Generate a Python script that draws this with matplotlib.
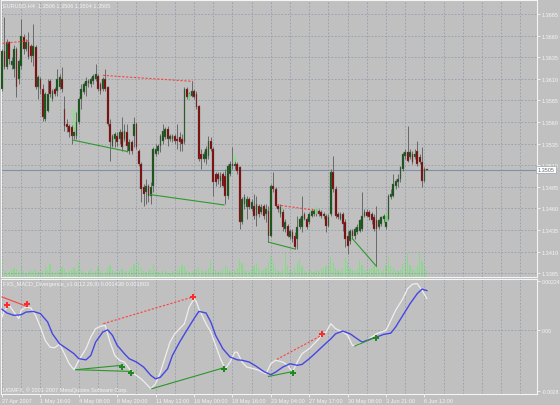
import numpy as np
import matplotlib.pyplot as plt

plt.rcParams['font.family'] = ['Liberation Sans', 'DejaVu Sans']

# EURUSD H4 candles (bar 0 = 27 Apr 2007)
opens = [
    1.3598, 1.3642, 1.3624, 1.3653, 1.3626, 1.3621, 1.3645, 1.3610, 1.3625, 1.3658,
    1.3645, 1.3653, 1.3648, 1.3636, 1.3647, 1.3601, 1.3610, 1.3598, 1.3563, 1.3573,
    1.3607, 1.3587, 1.3598, 1.3596, 1.3601, 1.3610, 1.3575, 1.3558, 1.3555, 1.3554,
    1.3544, 1.3544, 1.3560, 1.3587, 1.3595, 1.3602, 1.3607, 1.3604, 1.3607, 1.3610,
    1.3613, 1.3604, 1.3598, 1.3610, 1.3601, 1.3558, 1.3532, 1.3540, 1.3544, 1.3540,
    1.3548, 1.3540, 1.3548, 1.3526, 1.3537, 1.3544, 1.3558, 1.3526, 1.3511, 1.3485,
    1.3479, 1.3486, 1.3474, 1.3486, 1.3523, 1.3526, 1.3532, 1.3538, 1.3543, 1.3552,
    1.3540, 1.3540, 1.3544, 1.3540, 1.3543, 1.3540, 1.3537, 1.3598, 1.3589, 1.3590,
    1.3596, 1.3592, 1.3579, 1.3523, 1.3517, 1.3517, 1.3521, 1.3538, 1.3529, 1.3500,
    1.3500, 1.3492, 1.3500, 1.3498, 1.3474, 1.3500, 1.3511, 1.3509, 1.3511, 1.3508,
    1.3444, 1.3465, 1.3462, 1.3471, 1.3459, 1.3463, 1.3451, 1.3463, 1.3456, 1.3463,
    1.3454, 1.3457, 1.3428, 1.3486, 1.3482, 1.3463, 1.3454, 1.3456, 1.3436, 1.3440,
    1.3427, 1.3433, 1.3428, 1.3425, 1.3439, 1.3439, 1.3454, 1.3448, 1.3444, 1.3451,
    1.3454, 1.3454, 1.3457, 1.3456, 1.3454, 1.3451, 1.3440, 1.3454, 1.3502, 1.3482,
    1.3454, 1.3448, 1.3454, 1.3444, 1.3428, 1.3422, 1.3434, 1.3428, 1.3433, 1.3434,
    1.3436, 1.3451, 1.3456, 1.3456, 1.3454, 1.3450, 1.3446, 1.3439, 1.3442, 1.3448,
    1.3439, 1.3448, 1.3473, 1.3474, 1.3486, 1.3491, 1.3494, 1.3506, 1.3521, 1.3525,
    1.3520, 1.3523, 1.3520, 1.3526, 1.3520, 1.3514, 1.3492, 1.3506]
highs = [
    1.3645, 1.3682, 1.3656, 1.3654, 1.3635, 1.3649, 1.3647, 1.3633, 1.3679, 1.3662,
    1.3656, 1.3664, 1.3650, 1.3673, 1.3649, 1.3614, 1.3612, 1.3604, 1.3595, 1.3610,
    1.3610, 1.3598, 1.3601, 1.3621, 1.3616, 1.3624, 1.3590, 1.3563, 1.3558, 1.3557,
    1.3554, 1.3572, 1.3589, 1.3604, 1.3606, 1.3612, 1.3610, 1.3612, 1.3616, 1.3627,
    1.3616, 1.3606, 1.3612, 1.3621, 1.3602, 1.3563, 1.3546, 1.3548, 1.3548, 1.3552,
    1.3566, 1.3558, 1.3558, 1.3540, 1.3539, 1.3566, 1.3560, 1.3529, 1.3514, 1.3488,
    1.3494, 1.3488, 1.3491, 1.3531, 1.3535, 1.3535, 1.3546, 1.3558, 1.3554, 1.3555,
    1.3546, 1.3546, 1.3546, 1.3558, 1.3548, 1.3546, 1.3601, 1.3601, 1.3595, 1.3607,
    1.3598, 1.3596, 1.3580, 1.3529, 1.3526, 1.3532, 1.3544, 1.3543, 1.3531, 1.3502,
    1.3502, 1.3502, 1.3502, 1.3506, 1.3511, 1.3515, 1.3531, 1.3517, 1.3514, 1.3509,
    1.3473, 1.3477, 1.3474, 1.3473, 1.3471, 1.3477, 1.3474, 1.3465, 1.3465, 1.3465,
    1.3465, 1.3463, 1.3488, 1.3502, 1.3485, 1.3465, 1.3465, 1.3459, 1.3448, 1.3442,
    1.3436, 1.3436, 1.3433, 1.3451, 1.3450, 1.3474, 1.3456, 1.3450, 1.3456, 1.3459,
    1.3459, 1.3462, 1.3459, 1.3458, 1.3456, 1.3454, 1.3454, 1.3506, 1.3521, 1.3486,
    1.3456, 1.3456, 1.3456, 1.3448, 1.3434, 1.3436, 1.3436, 1.3439, 1.3442, 1.3448,
    1.3479, 1.3459, 1.3459, 1.3458, 1.3456, 1.3454, 1.3463, 1.3448, 1.3451, 1.3454,
    1.3454, 1.3477, 1.3482, 1.3500, 1.3494, 1.3500, 1.3509, 1.3525, 1.3529, 1.3555,
    1.3529, 1.3526, 1.3529, 1.3538, 1.3523, 1.3531, 1.3508, 1.3506]
lows = [
    1.3596, 1.3621, 1.3621, 1.3627, 1.3621, 1.3612, 1.3589, 1.3604, 1.3621, 1.3639,
    1.3642, 1.3633, 1.3629, 1.3625, 1.3598, 1.3587, 1.3592, 1.3561, 1.3561, 1.3572,
    1.3589, 1.3584, 1.3590, 1.3590, 1.3598, 1.3595, 1.3550, 1.3548, 1.3543, 1.3535,
    1.3540, 1.3540, 1.3558, 1.3575, 1.3592, 1.3590, 1.3601, 1.3601, 1.3604, 1.3607,
    1.3596, 1.3592, 1.3596, 1.3596, 1.3555, 1.3515, 1.3531, 1.3531, 1.3532, 1.3535,
    1.3526, 1.3538, 1.3525, 1.3523, 1.3523, 1.3531, 1.3529, 1.3509, 1.3467, 1.3463,
    1.3465, 1.3467, 1.3465, 1.3479, 1.3521, 1.3523, 1.3525, 1.3535, 1.3540, 1.3532,
    1.3538, 1.3537, 1.3535, 1.3529, 1.3526, 1.3526, 1.3535, 1.3587, 1.3587, 1.3589,
    1.3587, 1.3575, 1.3515, 1.3506, 1.3514, 1.3511, 1.3517, 1.3526, 1.3474, 1.3486,
    1.3488, 1.3485, 1.3485, 1.3465, 1.3471, 1.3498, 1.3506, 1.3506, 1.3500, 1.3436,
    1.3442, 1.3459, 1.3448, 1.3459, 1.3457, 1.3448, 1.3440, 1.3450, 1.3454, 1.3448,
    1.3444, 1.3421, 1.3427, 1.3479, 1.3462, 1.3456, 1.3450, 1.3434, 1.3433, 1.3427,
    1.3425, 1.3421, 1.3413, 1.3413, 1.3436, 1.3433, 1.3446, 1.3436, 1.3442, 1.3450,
    1.3451, 1.3451, 1.3451, 1.3449, 1.3448, 1.3433, 1.3439, 1.3451, 1.3479, 1.3449,
    1.3448, 1.3446, 1.3434, 1.3415, 1.3407, 1.3419, 1.3425, 1.3425, 1.3430, 1.3433,
    1.3434, 1.3450, 1.3450, 1.3446, 1.3442, 1.3434, 1.3393, 1.3436, 1.3440, 1.3444,
    1.3436, 1.3446, 1.3471, 1.3473, 1.3482, 1.3485, 1.3491, 1.3503, 1.3517, 1.3514,
    1.3517, 1.3511, 1.3517, 1.3509, 1.3511, 1.3485, 1.3491, 1.3504]
closes = [
    1.3642, 1.3624, 1.3653, 1.3633, 1.3631, 1.3645, 1.3601, 1.3631, 1.3660, 1.3645,
    1.3653, 1.3635, 1.3636, 1.3648, 1.3601, 1.3612, 1.3598, 1.3566, 1.3592, 1.3592,
    1.3592, 1.3596, 1.3592, 1.3610, 1.3612, 1.3598, 1.3555, 1.3554, 1.3548, 1.3544,
    1.3550, 1.3560, 1.3587, 1.3598, 1.3604, 1.3607, 1.3605, 1.3610, 1.3613, 1.3616,
    1.3598, 1.3596, 1.3610, 1.3598, 1.3558, 1.3537, 1.3544, 1.3546, 1.3537, 1.3548,
    1.3531, 1.3550, 1.3532, 1.3537, 1.3526, 1.3558, 1.3531, 1.3511, 1.3482, 1.3477,
    1.3486, 1.3474, 1.3485, 1.3529, 1.3529, 1.3532, 1.3544, 1.3550, 1.3552, 1.3540,
    1.3544, 1.3544, 1.3538, 1.3538, 1.3537, 1.3535, 1.3598, 1.3589, 1.3592, 1.3596,
    1.3589, 1.3577, 1.3517, 1.3517, 1.3523, 1.3529, 1.3538, 1.3529, 1.3491, 1.3491,
    1.3494, 1.3498, 1.3486, 1.3474, 1.3509, 1.3511, 1.3509, 1.3511, 1.3503, 1.3444,
    1.3471, 1.3473, 1.3471, 1.3462, 1.3467, 1.3451, 1.3465, 1.3454, 1.3462, 1.3451,
    1.3459, 1.3428, 1.3486, 1.3482, 1.3463, 1.3459, 1.3462, 1.3439, 1.3444, 1.3428,
    1.3434, 1.3425, 1.3415, 1.3439, 1.3448, 1.3451, 1.3448, 1.3439, 1.3454, 1.3457,
    1.3457, 1.3459, 1.3454, 1.3451, 1.3451, 1.3440, 1.3450, 1.3502, 1.3482, 1.3451,
    1.3450, 1.3454, 1.3442, 1.3425, 1.3417, 1.3434, 1.3428, 1.3436, 1.3439, 1.3446,
    1.3451, 1.3456, 1.3451, 1.3450, 1.3446, 1.3436, 1.3436, 1.3446, 1.3450, 1.3451,
    1.3451, 1.3474, 1.3477, 1.3488, 1.3492, 1.3494, 1.3508, 1.3523, 1.3525, 1.3515,
    1.3525, 1.3514, 1.3523, 1.3511, 1.3514, 1.3492, 1.3506, 1.3505]
volumes = [
    170, 60, 40, 50, 70, 90, 80, 50, 120, 60, 40, 50, 70, 60, 80, 50, 40, 60, 100, 70,
    130, 50, 40, 60, 70, 100, 80, 50, 60, 70, 90, 60, 150, 70, 50, 40, 60, 80, 50, 60,
    100, 60, 40, 50, 90, 120, 70, 50, 40, 60, 80, 50, 60, 70, 90, 130, 80, 150, 90, 60,
    50, 70, 80, 130, 60, 50, 40, 60, 70, 50, 40, 60, 50, 70, 90, 120, 110, 60, 50, 40,
    60, 80, 100, 70, 50, 60, 90, 170, 120, 70, 50, 60, 80, 110, 90, 60, 50, 70, 90, 180,
    140, 70, 60, 50, 80, 110, 140, 90, 60, 70, 90, 150, 220, 160, 90, 60, 50, 80, 250, 120,
    70, 60, 90, 140, 180, 110, 60, 50, 70, 60, 50, 70, 60, 80, 90, 110, 130, 200, 150, 90,
    70, 60, 90, 200, 150, 90, 70, 60, 80, 170, 120, 70, 60, 80, 90, 110, 160, 80, 60, 70,
    120, 200, 110, 90, 70, 60, 80, 130, 150, 240, 120, 80, 70, 110, 250, 160, 90, 60]

last_price = 1.3505
price_levels = [1.3385, 1.3410, 1.3435, 1.3460, 1.3485, 1.3510, 1.3535,
                1.3560, 1.3585, 1.3610, 1.3635, 1.3660, 1.3685]
date_labels = ['27 Apr 2007', '1 May 16:00', '4 May 08:00', '8 May 20:00',
               '11 May 12:00', '16 May 00:00', '18 May 16:00', '23 May 04:00',
               '27 May 17:00', '30 May 08:00', '3 Jun 21:00', '6 Jun 12:00']

# divergence lines on price: (bar0, price0, bar1, price1)
price_bear = [(0.3, 1.3651, 10.8, 1.3654), (42, 1.3614, 79.6, 1.3607),
              (114.6, 1.3464, 130, 1.3458)]
price_bull = [(29.6, 1.3539, 52, 1.3526), (61.7, 1.3476, 92.5, 1.3464),
              (111, 1.3421, 122, 1.3413), (146, 1.3425, 156, 1.3393)]
arrow_bars = [30, 78, 97, 131, 160]
arrow_top = [1.3575, 1.3592, 1.3521, 1.3462, 1.3454]
arrow_bot = [1.3548, 1.3587, 1.3514, 1.3454, 1.3444]

# MACD indicator
macd_bars = [0, 1, 3, 4, 5, 7, 8, 10, 12, 14, 16, 18, 20, 22, 24, 26, 28, 30, 32, 35,
             37, 39, 41, 43, 45, 47, 49, 51, 53, 55, 58, 60, 62, 64, 66, 68, 70, 72, 74, 76,
             78, 80, 81, 82, 85, 87, 89, 91, 93, 95, 97, 98, 100, 102, 105, 107, 110, 112, 114, 117,
             119, 121, 123, 125, 128, 130, 132, 133, 135, 137, 139, 142, 144, 146, 148, 150, 152, 154, 156, 158,
             160, 162, 164, 167, 169, 171, 173, 175, 177]
macd_vals = [0.00059, 0.00090, 0.00113, 0.00097, 0.00082, 0.00052, 0.00090, 0.00105, 0.00101, 0.00067,
             0.00014, -0.00047, -0.00078, -0.00081, -0.00063, -0.00108, -0.00154, -0.00181, -0.00138, -0.00085,
             -0.00032, 0.00006, 0.00017, 0.00021, -0.00055, -0.00116, -0.00138, -0.00146, -0.00177, -0.00200,
             -0.00223, -0.00245, -0.00268, -0.00245, -0.00192, -0.00123, -0.00055, -0.00017, 0.00006, 0.00029,
             0.00105, 0.00143, 0.00128, 0.00097, 0.00029, -0.00009, -0.00070, -0.00131, -0.00177, -0.00146,
             -0.00101, -0.00101, -0.00146, -0.00169, -0.00177, -0.00184, -0.00200, -0.00154, -0.00138, -0.00146,
             -0.00161, -0.00192, -0.00146, -0.00108, -0.00085, -0.00063, -0.00040, -0.00024, -0.00009, 0.00029,
             0.00006, -0.00009, -0.00024, -0.00070, -0.00070, -0.00055, -0.00047, -0.00032, -0.00017, -0.00009,
             -0.00001, 0.00044, 0.00090, 0.00143, 0.00189, 0.00209, 0.00212, 0.00181, 0.00144]
signal_bars = [0, 2, 5, 8, 10, 13, 16, 19, 21, 24, 27, 30, 32, 35, 37, 39, 42, 44, 46, 48,
               51, 53, 56, 59, 62, 64, 66, 69, 71, 74, 77, 80, 82, 85, 87, 89, 92, 95, 98, 100,
               103, 106, 109, 112, 114, 117, 120, 123, 125, 128, 131, 134, 137, 139, 142, 145, 148, 150, 153, 156,
               159, 162, 164, 167, 170, 173, 175, 177]
signal_vals = [0.00095, 0.00078, 0.00067, 0.00070, 0.00082, 0.00085, 0.00075, 0.00037, -0.00017, -0.00063,
               -0.00085, -0.00108, -0.00131, -0.00136, -0.00116, -0.00055, -0.00009, 0.00001, -0.00024, -0.00070,
               -0.00108, -0.00131, -0.00146, -0.00169, -0.00207, -0.00223, -0.00215, -0.00177, -0.00116, -0.00055,
               -0.00001, 0.00052, 0.00085, 0.00078, 0.00037, -0.00024, -0.00085, -0.00123, -0.00136, -0.00138,
               -0.00146, -0.00166, -0.00189, -0.00204, -0.00192, -0.00169, -0.00154, -0.00161, -0.00157, -0.00131,
               -0.00101, -0.00070, -0.00040, -0.00017, -0.00005, -0.00017, -0.00040, -0.00055, -0.00043, -0.00032,
               -0.00020, -0.00014, 0.00014, 0.00067, 0.00120, 0.00166, 0.00187, 0.00180]
osc_levels = [0.00224, 0.0, -0.0028]
osc_level_labels = ['0.00224', '0.00', '-0.0028']

osc_bear = [(0, 0.00151, 10.3, 0.00108), (42.2, 0.00029, 79.5, 0.00151),
            (114.5, -0.00134, 133.2, -0.00024)]
osc_bull = [(30.8, -0.00181, 49.9, -0.00161), (30.8, -0.00181, 53.75, -0.00189),
            (62.4, -0.00268, 92.5, -0.00172), (111, -0.00212, 121.4, -0.00189),
            (147, -0.00073, 155.8, -0.00032)]
sell_bars = [2.2, 10.5, 79.5, 133.2]
sell_vals = [0.00113, 0.00120, 0.00151, -0.00018]
buy_bars = [49.9, 53.75, 92.5, 121.4, 155.8]
buy_vals = [-0.00169, -0.00197, -0.00178, -0.00197, -0.00037]

# colours
BG = '#c0c0c0'
FG = '#f4f4f4'
GRID = '#949eab'
BULL = '#0d520d'
BEAR = '#820000'
WICK = '#6a6a6a'
VOL = '#86dc86'

fig = plt.figure(figsize=(5.6, 4.06), dpi=100, facecolor=BG)
ax = fig.add_axes([1 / 560, 128 / 406, 536 / 560, 277 / 406])
osc = fig.add_axes([1 / 560, 11 / 406, 536 / 560, 115 / 406], sharex=ax)

# volumes behind the candles
vax = ax.twinx()
vax.set_zorder(0)
ax.set_zorder(1)
ax.patch.set_visible(False)
vax.axis('off')
idx = np.arange(len(closes))
vax.bar(idx, volumes, width=0.45, color=VOL, linewidth=0)
vax.set_ylim(0, 2770)

o = np.array(opens)
c = np.array(closes)
up = c >= o
ax.vlines(idx, lows, highs, color=WICK, linewidth=0.7, zorder=3)
body_lo = np.minimum(o, c)
body_h = np.maximum(np.abs(c - o), 0.00004)
ax.bar(idx, body_h, bottom=body_lo, width=0.75,
       color=np.where(up, BULL, BEAR), edgecolor=WICK, linewidth=0.25, zorder=4)

for b0, p0, b1, p1 in price_bear:
    ax.plot([b0, b1], [p0, p1], color='#ff4040', linewidth=0.8,
            linestyle=(0, (2, 1.5)), zorder=5)
for b0, p0, b1, p1 in price_bull:
    ax.plot([b0, b1], [p0, p1], color='#2e9a2e', linewidth=0.8, zorder=5)
ax.vlines(arrow_bars, arrow_bot, arrow_top, color='#7ee87e', linewidth=1.2, zorder=6)

ax.axhline(last_price, color='#7e8fa6', linewidth=0.8, zorder=2)

ax.set_xlim(-0.42, 222.9)
ax.set_ylim(1.33806, 1.37012)

grid_kw = dict(color=GRID, linestyle=(0, (2, 2)), linewidth=0.6)
for a in (ax, osc):
    a.set_facecolor(BG)
    a.set_xticks(np.arange(0, 223, 8), minor=True)
    a.grid(True, which='both', axis='x', **grid_kw)
    a.grid(True, which='major', axis='y', **grid_kw)
    a.set_axisbelow(True)
    for s in a.spines.values():
        s.set_color(FG)
        s.set_linewidth(0.8)
    a.yaxis.tick_right()
    a.tick_params(axis='y', colors=FG, labelsize=4, length=2, width=0.6, pad=1.2)
    a.tick_params(which='minor', length=0)

ax.set_yticks(price_levels)
ax.set_yticklabels([f'{v:.4f}' for v in price_levels])
ax.tick_params(axis='x', which='both', labelbottom=False, length=0)

ax.text(1.0015, last_price, f'{last_price:.4f}', transform=ax.get_yaxis_transform(),
        fontsize=4, color='#6a6a6a', va='center', ha='left', zorder=10, clip_on=False,
        bbox=dict(boxstyle='square,pad=0.25', fc='white', ec='#9aa4b2', lw=0.5))

# oscillator panel
osc.plot(macd_bars, macd_vals, color='#eeeeee', linewidth=0.9, zorder=3)
osc.plot(signal_bars, signal_vals, color='#4646e6', linewidth=1.0, zorder=4)
for b0, v0, b1, v1 in osc_bear:
    ls = '-' if b0 == 0 else (0, (2, 1.5))
    osc.plot([b0, b1], [v0, v1], color='#ff4040', linewidth=0.8, linestyle=ls, zorder=5)
for b0, v0, b1, v1 in osc_bull:
    osc.plot([b0, b1], [v0, v1], color='#2a962a', linewidth=0.8, zorder=5)
osc.plot(sell_bars, sell_vals, linestyle='none', marker='P', markersize=4.2,
         color='#ff2a2a', markeredgewidth=0, zorder=6)
osc.plot(buy_bars, buy_vals, linestyle='none', marker='P', markersize=4.2,
         color='#1c8a1c', markeredgewidth=0, zorder=6)

osc.set_ylim(-0.00292, 0.00233)
osc.set_yticks(osc_levels)
osc.set_yticklabels(osc_level_labels)
osc.tick_params(axis='y', labelsize=3.7)
osc.yaxis.grid(False)
osc.axhline(0, zorder=1, **grid_kw)

osc.set_xticks(np.arange(0, 16 * len(date_labels), 16))
osc.set_xticklabels(date_labels)
osc.tick_params(axis='x', which='major', colors=FG, labelsize=4, length=2,
                width=0.6, pad=1)
for lbl in osc.get_xticklabels():
    lbl.set_ha('left')

fig.text(3 / 560, 1 - 6 / 406, 'EURUSD,H4  1.3506 1.3506 1.3504 1.3505',
         color=FG, fontsize=4, va='center', ha='left')
fig.text(3 / 560, 1 - 285 / 406,
         'FXS_MACD_Divergence_v1.0(12,26,9) 0.001438 0.001803',
         color=FG, fontsize=4, va='center', ha='left')
fig.text(3 / 560, 1 - 390 / 406, 'UGMFX, \u00a9 2001-2007 MetaQuotes Software Corp.',
         color=FG, fontsize=4, va='center', ha='left')

fig.savefig('out.png', dpi=100, facecolor=BG)
